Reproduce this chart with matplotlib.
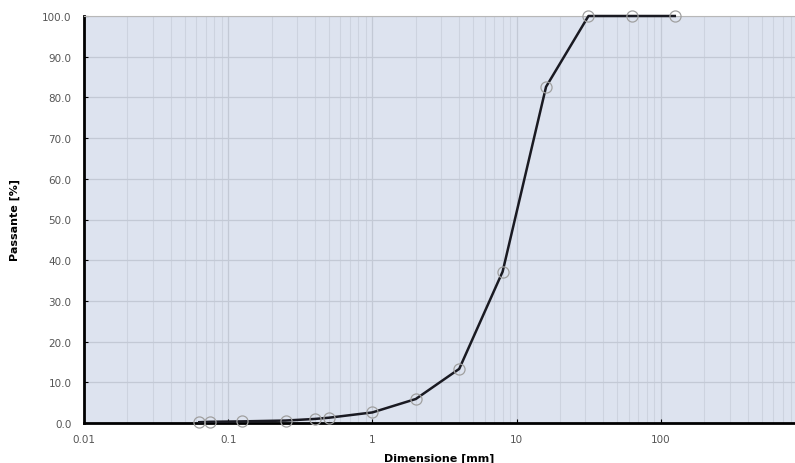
import matplotlib
matplotlib.use('Agg')
from matplotlib import pyplot as plt
from matplotlib.ticker import FixedLocator, LogLocator, NullFormatter

# sieve sizes [mm] and passing [%]
sizes = [0.063, 0.075, 0.125, 0.25, 0.4, 0.5, 1, 2, 4, 8, 16, 31.5, 63, 125]
passing = [0.2, 0.3, 0.4, 0.6, 1.0, 1.3, 2.6, 5.9, 13.3, 37.2, 82.6, 100.0, 100.0, 100.0]

x_ticks = [0.01, 0.1, 1, 10, 100]
x_tick_labels = ['0.01', '0.1', '1', '10', '100']
y_ticks = [0, 10, 20, 30, 40, 50, 60, 70, 80, 90, 100]

fig = plt.figure(figsize=(7.95, 4.64), dpi=100)
ax = fig.add_axes([84/795, 40/464, (795-84)/795, (424-17)/464])
ax.set_facecolor('#dde3ef')

ax.plot(sizes, passing, color='#1a1a22', lw=1.8, zorder=3, clip_on=False,
        marker='o', ms=8, mfc='none', mec='#a0a0a0', mew=0.9)

ax.set_xscale('log')
ax.set_xlim(0.01, 10**(2+134/144))
ax.set_ylim(0, 100)
ax.xaxis.set_major_locator(FixedLocator(x_ticks))
ax.set_xticklabels(x_tick_labels)
ax.xaxis.set_minor_locator(LogLocator(base=10, subs=range(2, 10), numticks=20))
ax.xaxis.set_minor_formatter(NullFormatter())
ax.set_yticks(y_ticks)
ax.set_yticklabels(['%.1f' % v for v in y_ticks])

ax.grid(True, which='major', color='#c3c9d5', lw=0.9)
ax.grid(True, which='minor', axis='x', color='#cdd3df', lw=0.8)
ax.set_axisbelow(True)

ax.tick_params(axis='both', which='major', labelsize=7.5, labelcolor='#555555',
               length=3, direction='in', color='black')
ax.tick_params(axis='x', which='minor', length=0)
ax.tick_params(axis='x', pad=8)
ax.tick_params(axis='y', pad=9)

for side in ['left', 'bottom']:
    ax.spines[side].set_linewidth(2)
    ax.spines[side].set_color('black')
ax.spines['top'].set_color('#b8b8b8')
ax.spines['right'].set_visible(False)

ax.set_xlabel('Dimensione [mm]', fontsize=8, fontweight='bold', labelpad=6)
ax.set_ylabel('Passante [%]', fontsize=8, fontweight='bold', labelpad=16)

fig.savefig('out.png', dpi=100)
